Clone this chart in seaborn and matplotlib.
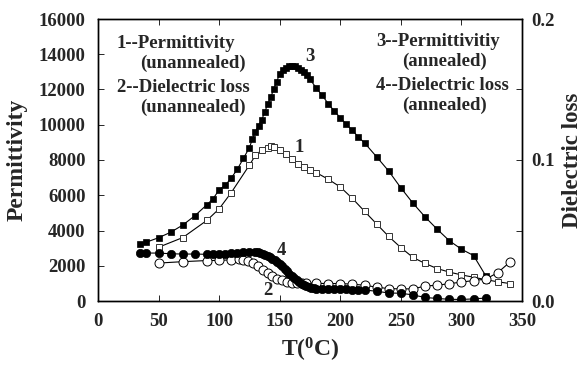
import numpy as np
import pandas as pd
import matplotlib
matplotlib.use("Agg")
import matplotlib.pyplot as plt
import seaborn as sns

# ---- data ----
# 1: permittivity, unannealed (open squares)
t1 = [50, 70, 90, 100, 110, 125, 130, 135, 140, 142.5, 145, 150, 155, 160, 165, 170, 175, 180,
      190, 200, 210, 220, 230, 240, 250, 260, 270, 280, 290, 300, 310, 320, 330, 340]
p1 = [3050, 3600, 4580, 5230, 6150, 7710, 8270, 8550, 8700, 8770, 8760, 8560, 8340, 8060, 7770, 7580, 7450, 7290,
      6910, 6470, 5820, 5090, 4370, 3660, 3030, 2470, 2130, 1840, 1640, 1480, 1350, 1210, 1090, 990]

# 3: permittivity, annealed (filled squares)
t3 = [35, 40, 50, 60, 70, 80, 90, 95, 100, 105, 110, 115, 120, 125, 127.5, 130, 132.5, 135, 137.5,
      140, 142.5, 145, 147.5, 150, 152.5, 155, 157.5, 160, 162.5, 165, 167.5, 170, 172.5, 175,
      180, 185, 190, 195, 200, 205, 210, 215, 220, 230, 240, 250, 260, 270, 280, 290, 300, 310, 320]
p3 = [3230, 3340, 3590, 3900, 4310, 4840, 5470, 5800, 6310, 6560, 6980, 7470, 8090, 8700, 9200, 9600, 9950, 10250, 10700,
      11150, 11550, 12000, 12450, 12880, 13110, 13240, 13310, 13350, 13320, 13240, 13130, 13000, 12820, 12580,
      12100, 11670, 11200, 10780, 10400, 10020, 9680, 9300, 8970, 8180, 7370, 6420, 5550, 4770, 4070, 3420, 2940, 2580, 1440]

# 2: dielectric loss, unannealed (open circles)
t2 = [50, 70, 90, 100, 110, 116, 120, 124, 128, 132, 136, 140, 144, 148, 152, 156, 160, 164, 168, 172,
      180, 190, 200, 210, 220, 230, 240, 250, 260, 270, 280, 290, 300, 310, 320, 330, 340]
d2 = [0.0269, 0.0279, 0.0287, 0.0288, 0.0292, 0.0298, 0.0291, 0.0284, 0.0268, 0.0247, 0.0221, 0.0198, 0.0174,
      0.0159, 0.0146, 0.0134, 0.0130, 0.0129, 0.0128, 0.0128,
      0.0125, 0.0124, 0.0124, 0.0119, 0.0112, 0.0098, 0.0088, 0.0086, 0.0086, 0.0106, 0.0112, 0.0123, 0.0134,
      0.0145, 0.0155, 0.0201, 0.0276]

# 4: dielectric loss, annealed (filled circles)
t4 = [35, 40, 50, 60, 70, 80, 90, 95, 100, 105, 110, 115, 120, 125, 130, 132, 134, 136, 138, 140, 142, 144,
      146, 148, 150, 152, 154, 156, 158, 160, 162, 164, 166, 168, 170, 172, 174, 176, 178, 180,
      185, 190, 195, 200, 205, 210, 215, 220, 230, 240, 250, 260, 270, 280, 290, 300, 310, 320]
d4 = [0.0340, 0.0340, 0.0340, 0.0335, 0.0333, 0.0333, 0.0331, 0.0333, 0.0334, 0.0336, 0.0340, 0.0343, 0.0346,
      0.0348, 0.0348, 0.0344, 0.0339, 0.0333, 0.0328, 0.0321, 0.0312, 0.0301, 0.0289, 0.0276, 0.0262, 0.0247,
      0.0230, 0.0212, 0.0195, 0.0178, 0.0162, 0.0148, 0.0134, 0.0121, 0.0111, 0.0104, 0.0098, 0.0093, 0.0089,
      0.0087, 0.0082, 0.0082, 0.0082, 0.0082, 0.0082, 0.0081, 0.0080, 0.0078, 0.0069, 0.0057, 0.0055, 0.0043,
      0.0025, 0.0018, 0.0012, 0.0011, 0.0015, 0.0021]

x_ticks = [0, 50, 100, 150, 200, 250, 300, 350]
y_ticks = [0, 2000, 4000, 6000, 8000, 10000, 12000, 14000, 16000]
y2_ticks = [0.0, 0.1, 0.2]

left_notes = ["1--Permittivity", "(unannealed)", "2--Dielectric loss", "(unannealed)"]
right_notes = ["3--Permittivitiy", "(annealed)", "4--Dielectric loss", "(annealed)"]

# ---- style ----
sns.set_theme(style="ticks")
plt.rcParams["font.family"] = ["Liberation Serif", "DejaVu Serif"]
plt.rcParams["font.weight"] = "bold"
plt.rcParams["mathtext.fontset"] = "custom"
plt.rcParams["mathtext.rm"] = "Liberation Serif:bold"
plt.rcParams["mathtext.it"] = "Liberation Serif:bold"
plt.rcParams["mathtext.bf"] = "Liberation Serif:bold"

W, H = 586, 366
fig = plt.figure(figsize=(W / 100, H / 100), dpi=100)
L, R, T, B = 98, 522, 19, 301
ax = fig.add_axes([L / W, 1 - B / H, (R - L) / W, (B - T) / H])
ax2 = ax.twinx()

line_kw = dict(color="black", linewidth=0.8, estimator=None, sort=False, legend=False)

df1 = pd.DataFrame({"T": t1, "v": p1})
df3 = pd.DataFrame({"T": t3, "v": p3})
df2 = pd.DataFrame({"T": t2, "v": d2})
df4 = pd.DataFrame({"T": t4, "v": d4})

sns.lineplot(data=df1, x="T", y="v", ax=ax, marker="s", markersize=5,
             markerfacecolor="white", markeredgecolor="#333333", markeredgewidth=0.7, **line_kw)
sns.lineplot(data=df3, x="T", y="v", ax=ax, marker="s", markersize=5,
             markerfacecolor="black", markeredgecolor="black", markeredgewidth=0.5, **line_kw)
sns.lineplot(data=df2, x="T", y="v", ax=ax2, marker="o", markersize=6.5,
             markerfacecolor="white", markeredgecolor="black", markeredgewidth=0.7, **line_kw)
sns.lineplot(data=df4, x="T", y="v", ax=ax2, marker="o", markersize=6,
             markerfacecolor="black", markeredgecolor="black", markeredgewidth=0.5, **line_kw)

ax.set_xlim(0, 350)
ax.set_ylim(0, 16000)
ax2.set_ylim(0, 0.2)
ax.set_xticks(x_ticks)
ax.set_yticks(y_ticks)
ax2.set_yticks(y2_ticks)
ax2.set_yticks(np.arange(0, 0.2001, 0.05), minor=True)
ax.set_xticklabels([str(v) for v in x_ticks])
ax.set_yticklabels([str(v) for v in y_ticks])
ax2.set_yticklabels([f"{v:.1f}" for v in y2_ticks])

fs_tick = 13.5
ax.tick_params(axis="both", direction="in", length=4, width=0.7, labelsize=fs_tick, top=True, pad=9)
ax.tick_params(axis="y", right=False)
ax2.tick_params(axis="y", direction="in", length=4, width=0.7, labelsize=fs_tick, pad=7)
ax2.tick_params(axis="y", which="minor", direction="in", length=4, width=0.7)
for a in (ax, ax2):
    for s in a.spines.values():
        s.set_linewidth(1.0)
        s.set_color("black")
        s.set_visible(True)

ax.set_xlabel(r"T($^0$C)", fontsize=17, fontweight="bold", labelpad=4)
ax.set_ylabel("Permittivity", fontsize=17, fontweight="bold", labelpad=8)
ax2.set_ylabel("Dielectric loss", fontsize=16.5, fontweight="bold", labelpad=5)

# curve numbers
ax.text(174.6, 13900, "3", fontsize=13.5, fontweight="bold", ha="center", va="center")
ax.text(166.3, 8715, "1", fontsize=13.5, fontweight="bold", ha="center", va="center")
ax2.text(140.2, 0.0078, "2", fontsize=13.5, fontweight="bold", ha="center", va="center")
ax2.text(151.2, 0.0359, "4", fontsize=13.5, fontweight="bold", ha="center", va="center")

fs_note = 13.5
lx = [116.7, 140.5, 116.7, 140.5]
ly = [43, 63, 88, 107]
rx = [376, 402, 376, 402]
ry = [41, 61, 85, 105]
for s, x, y in zip(left_notes, lx, ly):
    fig.text(x / W, 1 - y / H, s, fontsize=fs_note, fontweight="bold", ha="left", va="center")
for s, x, y in zip(right_notes, rx, ry):
    fig.text(x / W, 1 - y / H, s, fontsize=fs_note, fontweight="bold", ha="left", va="center")

fig.savefig("out.png", dpi=100, facecolor="white")
